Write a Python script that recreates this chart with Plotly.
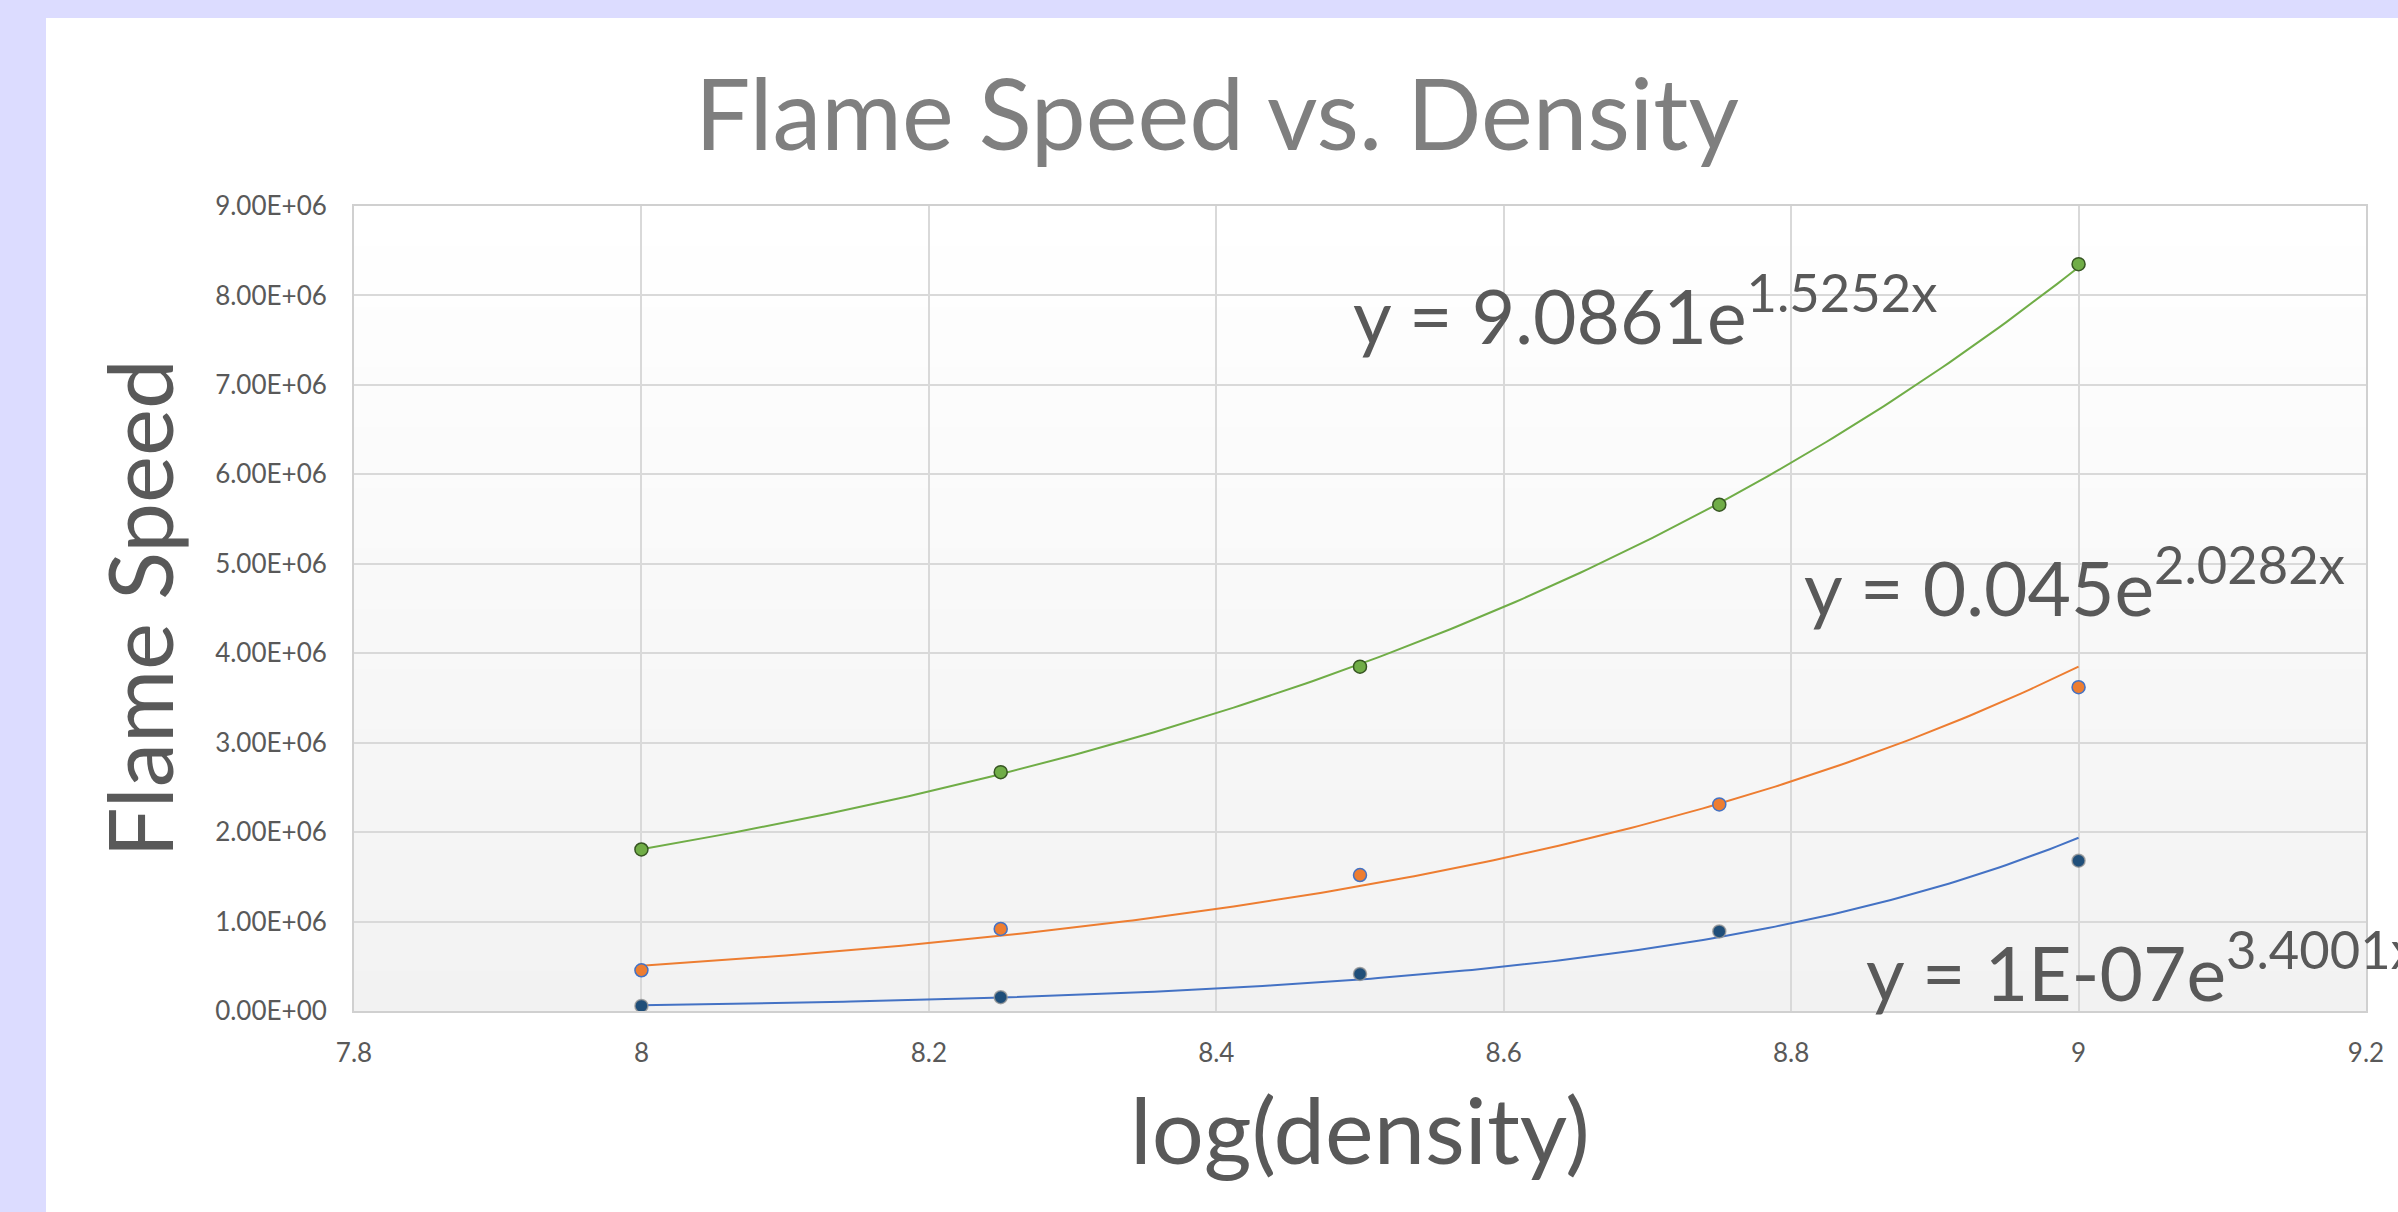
import numpy as np
import plotly.graph_objects as go

# ---------------- data ----------------
log_density = [8.0, 8.25, 8.5, 8.75, 9.0]
speed_blue = [0.057e6, 0.154e6, 0.414e6, 0.89e6, 1.68e6]
speed_orange = [0.455e6, 0.917e6, 1.52e6, 2.31e6, 3.62e6]
speed_green = [1.806e6, 2.67e6, 3.85e6, 5.66e6, 8.35e6]

eq_green = "y = 9.0861e<sup>1.5252x</sup>"
eq_orange = "y = 0.045e<sup>2.0282x</sup>"
eq_blue = "y = 1E-07e<sup>3.4001x</sup>"

y_tick_values = [0, 1e6, 2e6, 3e6, 4e6, 5e6, 6e6, 7e6, 8e6, 9e6]
y_tick_labels = [f"{v:.2E}" for v in y_tick_values]

# ---------------- layout constants ----------------
W, H = 2398, 1212
ML, MR, MT, MB = 354, 32, 206, 201
PW, PH = W - ML - MR, H - MT - MB
FONT = "Lato"
TXT = "#595959"


def px_to_paper_x(px):
    return (px - ML) / PW


def px_to_paper_y(py):
    return (H - MB - py) / PH


def exp_fit(x, y):
    b, a = np.polyfit(np.asarray(x), np.log(np.asarray(y)), 1)
    xs = np.linspace(min(x), max(x), 200)
    return xs, np.exp(a + b * xs)


fig = go.Figure()

series = [
    (speed_blue, "#4472c4", "#1f4e79", "rgba(150,150,150,0.8)"),
    (speed_orange, "#ed7d31", "#ed7d31", "#4472c4"),
    (speed_green, "#70ad47", "#70ad47", "#375623"),
]

for ys, line_c, fill_c, edge_c in series:
    fx, fy = exp_fit(log_density, ys)
    fig.add_trace(go.Scatter(x=fx, y=fy, mode="lines",
                             line=dict(color=line_c, width=2),
                             hoverinfo="skip", showlegend=False))
for ys, line_c, fill_c, edge_c in series:
    fig.add_trace(go.Scatter(x=log_density, y=ys, mode="markers",
                             marker=dict(size=13, color=fill_c,
                                         line=dict(color=edge_c, width=1.5)),
                             showlegend=False))

shapes = []
# lavender frame (left and top bands)
lav = "#dcdcff"
shapes.append(dict(type="rect", xref="paper", yref="paper", layer="below",
                   x0=px_to_paper_x(0), x1=px_to_paper_x(46),
                   y0=px_to_paper_y(H), y1=px_to_paper_y(0),
                   fillcolor=lav, line=dict(width=0)))
shapes.append(dict(type="rect", xref="paper", yref="paper", layer="below",
                   x0=px_to_paper_x(0), x1=px_to_paper_x(W),
                   y0=px_to_paper_y(18), y1=px_to_paper_y(0),
                   fillcolor=lav, line=dict(width=0)))
# vertical gradient in plot area
n = 40
for i in range(n):
    t = i / (n - 1)
    c = int(round(242 + (255 - 242) * t))
    shapes.append(dict(type="rect", xref="paper", yref="paper", layer="below",
                       x0=0, x1=1, y0=i / n, y1=(i + 1) / n + 0.002,
                       fillcolor=f"rgb({c},{c},{c})", line=dict(width=0)))

eq_font = dict(family=FONT, size=75, color=TXT)
annotations = [
    dict(x=8.4937, y=7.256e6, xref="x", yref="y", text=eq_green,
         xanchor="left", yanchor="bottom", showarrow=False, font=eq_font),
    dict(x=8.8076, y=4.215e6, xref="x", yref="y", text=eq_orange,
         xanchor="left", yanchor="bottom", showarrow=False, font=eq_font),
    dict(x=px_to_paper_x(1864), y=px_to_paper_y(1019), xref="paper", yref="paper",
         text=eq_blue, xanchor="left", yanchor="bottom", showarrow=False,
         font=eq_font),
]

fig.update_layout(
    width=W, height=H,
    margin=dict(l=ML, r=MR, t=MT, b=MB, pad=0),
    paper_bgcolor="white",
    plot_bgcolor="white",
    shapes=shapes,
    annotations=annotations,
    title=dict(text="Flame Speed vs. Density", x=0.5075, xanchor="center",
               y=1 - 116 / H, yanchor="middle", yref="container",
               font=dict(family=FONT, size=98, color="#7f7f7f")),
    xaxis=dict(range=[7.8, 9.2], dtick=0.2, tick0=7.8,
               showgrid=True, gridcolor="#d9d9d9", gridwidth=2,
               showline=True, linecolor="#d0d0d0", linewidth=2, mirror=True,
               zeroline=False, ticks="", ticklabelstandoff=18,
               tickfont=dict(family=FONT, size=26, color=TXT),
               title=dict(text="log(density)", standoff=32,
                          font=dict(family=FONT, size=92, color=TXT)),
               automargin=False),
    yaxis=dict(range=[0, 9e6], tickvals=y_tick_values, ticktext=y_tick_labels,
               showgrid=True, gridcolor="#d9d9d9", gridwidth=2,
               showline=True, linecolor="#d0d0d0", linewidth=2, mirror=True,
               zeroline=False, ticks="", ticklabelstandoff=20,
               tickfont=dict(family=FONT, size=26, color=TXT),
               title=dict(text="Flame Speed", standoff=12,
                          font=dict(family=FONT, size=89, color=TXT)),
               automargin=False),
)

fig.write_html("out.html")
